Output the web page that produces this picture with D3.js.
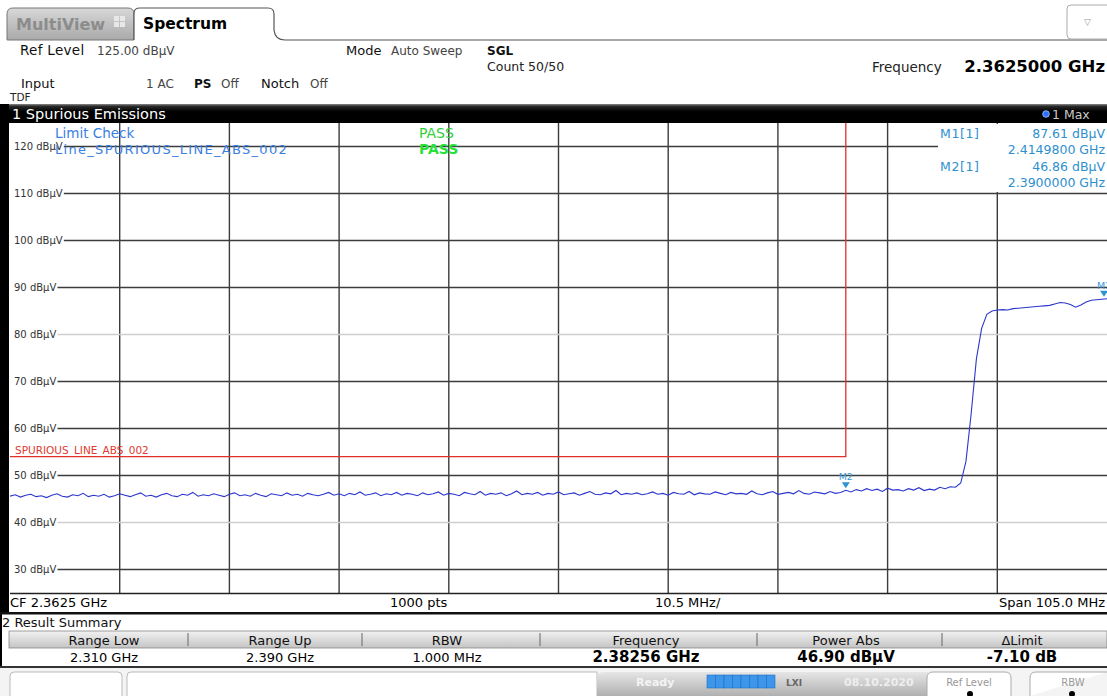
<!DOCTYPE html>
<html><head><meta charset="utf-8">
<script src="https://cdn.jsdelivr.net/npm/d3@7"></script>
<style>
html,body{margin:0;padding:0;background:#fff;overflow:hidden;}
svg{display:block;font-family:"DejaVu Sans",sans-serif;}
</style></head><body>
<svg id="c" width="1107" height="696"></svg>
<script>
// ---------- data ----------
const startFreqMHz = 2310, stopFreqMHz = 2415, stepMHz = 0.5;
const refLevel = 125, bottomLevel = 25;
const levelTicks = [120,110,100,90,80,70,60,50,40,30];
const lightTicks = [80,40];
const freqGridMHz = [2320.5,2331,2341.5,2352,2362.5,2373,2383.5,2394,2404.5];
const traceLevels = [
45.6,45.9,45.4,45.8,46.0,45.5,45.7,45.3,45.8,46.1,45.6,45.4,45.9,45.7,46.2,45.5,45.8,45.6,46.0,45.4,
45.7,46.1,45.8,45.5,45.9,46.3,45.6,45.8,45.4,45.9,46.2,45.7,45.5,46.0,45.8,46.4,45.6,45.9,45.7,46.1,
45.8,45.5,46.0,46.3,45.7,45.9,45.6,46.2,45.8,45.5,46.1,45.9,45.7,46.3,45.8,46.0,45.6,46.2,45.9,45.7,
46.0,46.4,45.8,46.1,45.7,46.2,45.9,46.5,45.8,46.0,46.3,45.7,46.1,45.9,46.4,45.8,46.2,46.0,45.7,46.3,
45.9,46.1,46.5,45.8,46.2,46.0,45.7,46.4,46.1,45.9,46.6,45.8,46.2,46.0,46.3,45.7,46.1,46.7,45.9,46.2,
46.0,46.4,45.8,46.2,46.0,46.5,45.9,46.1,46.3,45.8,46.2,46.6,46.0,45.9,46.3,46.1,46.8,45.9,46.2,46.0,
46.3,45.9,46.1,46.5,46.0,46.2,45.8,46.4,46.1,46.0,46.6,45.9,46.3,46.1,46.0,46.5,46.2,45.9,46.4,46.1,
46.2,46.0,46.7,46.1,45.9,46.3,46.6,46.0,46.2,46.4,46.1,46.8,46.2,46.0,46.5,46.3,46.1,46.6,46.2,46.4,
46.86,46.5,47.0,46.7,47.2,46.8,47.1,46.6,47.3,46.9,47.0,46.7,47.2,46.9,47.4,46.8,47.1,46.9,47.5,47.2,
47.6,47.5,48.4,53.0,63.2,74.8,81.3,84.3,85.0,85.2,85.3,85.2,85.5,85.6,85.7,85.8,85.9,86.0,86.1,86.2,
86.5,86.8,86.7,86.4,85.8,86.3,86.9,87.3,87.4,87.5,87.61
];
const limitPoints = [[2310,54],[2390,54],[2390,125]];
const markerNames = ["M1","M2"];
const markerFreqs = [2414.98,2390.0];
const markerLevels = [87.61,46.86];
const markerLevelTexts = ["87.61 dBµV","46.86 dBµV"];
const markerFreqTexts = ["2.4149800 GHz","2.3900000 GHz"];
const summaryHeaders = ["Range Low","Range Up","RBW","Frequency","Power Abs","ΔLimit"];
const summaryValues = ["2.310 GHz","2.390 GHz","1.000 MHz","2.38256 GHz","46.90 dBµV","-7.10 dB"];

// ---------- layout ----------
const svg = d3.select("#c");
const W = 1107, H = 696;
const plot = {l:10, r:1107, t:123, b:593};
const x = d3.scaleLinear().domain([startFreqMHz, stopFreqMHz]).range([plot.l, plot.r]);
const y = d3.scaleLinear().domain([bottomLevel, refLevel]).range([plot.b, plot.t]);

const defs = svg.append("defs");
function grad(id, stops){
  const g = defs.append("linearGradient").attr("id",id).attr("x1",0).attr("x2",0).attr("y1",0).attr("y2",1);
  stops.forEach(s=>g.append("stop").attr("offset",s[0]).attr("stop-color",s[1]));
}
grad("gBar",[[0,"#8a8a8a"],[0.12,"#2a2a2a"],[0.4,"#000"],[1,"#000"]]);
grad("gTab",[[0,"#d8d8d8"],[1,"#a9a9a9"]]);
grad("gHead",[[0,"#f2f2f2"],[1,"#c4c4c4"]]);
grad("gStatus",[[0,"#e6e6e6"],[1,"#b0b0b0"]]);
defs.append("clipPath").attr("id","clipPlot").append("rect")
  .attr("x",plot.l).attr("y",plot.t).attr("width",plot.r-plot.l).attr("height",plot.b-plot.t);

svg.append("rect").attr("width",W).attr("height",H).attr("fill","#fff");

// ---------- tabs ----------
svg.append("path").attr("d","M7,40 L7,14 Q7,8 13,8 L128,8 Q134,8 134,14 L134,40 Z")
  .attr("fill","url(#gTab)").attr("stroke","#777");
svg.append("text").attr("x",16).attr("y",30).attr("font-size",16).attr("font-weight","bold")
  .attr("fill","#8c8c8c").text("MultiView");
[[114,20],[120,20],[114,26],[120,26]].forEach(p=>svg.append("rect").attr("x",p[0]).attr("y",p[1]-4)
  .attr("width",5).attr("height",5).attr("fill","#e8e8e8"));
svg.append("path").attr("d","M134,40 L134,13 Q134,8 140,8 L268,8 Q274,8 274,14 L274,30 Q275,40 285,40 L1107,40")
  .attr("fill","#fff").attr("stroke","#555").attr("stroke-width",1.2);
svg.append("text").attr("x",143).attr("y",29).attr("font-size",15.5).attr("font-weight","bold")
  .attr("fill","#000").text("Spectrum");
svg.append("rect").attr("x",1067).attr("y",5).attr("width",45).attr("height",34).attr("rx",4)
  .attr("fill","#fff").attr("stroke","#aaa");
svg.append("text").attr("x",1084).attr("y",25).attr("font-size",9).attr("fill","#999").text("▽");

// ---------- header info ----------
function txt(xp, yp, s, size, opts={}){
  const t = svg.append("text").attr("x",xp).attr("y",yp).attr("font-size",size)
    .attr("fill",opts.fill||"#000").text(s);
  if(opts.bold) t.attr("font-weight","bold");
  if(opts.anchor) t.attr("text-anchor",opts.anchor);
  if(opts.ls) t.attr("letter-spacing",opts.ls);
  return t;
}
txt(20,55,"Ref Level",13.5,{fill:"#111",ls:0.3});
txt(97,55,"125.00 dBµV",12,{fill:"#444"});
txt(346,55,"Mode",13,{fill:"#111"});
txt(391,55,"Auto Sweep",12,{fill:"#444"});
txt(487,55,"SGL",12,{bold:true,fill:"#111"});
txt(487,71,"Count 50/50",12.5,{fill:"#222"});
txt(872,72,"Frequency",13.5,{fill:"#222"});
txt(1105,72,"2.3625000 GHz",16.5,{bold:true,anchor:"end"});
txt(21,88,"Input",13,{fill:"#111"});
txt(146,88,"1 AC",12,{fill:"#444"});
txt(194,88,"PS",12,{bold:true,fill:"#111"});
txt(221,88,"Off",12,{fill:"#444"});
txt(261,88,"Notch",13,{fill:"#111"});
txt(310,88,"Off",12,{fill:"#444"});
txt(10,101,"TDF",10.5,{fill:"#222"});

// ---------- title bar ----------
svg.append("rect").attr("x",0).attr("y",104).attr("width",W).attr("height",19).attr("fill","url(#gBar)");
txt(12,119,"1 Spurious Emissions",14.5,{fill:"#fff"});
svg.append("circle").attr("cx",1046).attr("cy",114).attr("r",3.3).attr("fill","#2f6fff").attr("stroke","#9cf").attr("stroke-width",0.8);
txt(1052,119,"1 Max",12.5,{fill:"#c8c8c8"});

// left black border
svg.append("rect").attr("x",0).attr("y",104).attr("width",9).attr("height",510).attr("fill","#000");
svg.append("rect").attr("x",0).attr("y",612).attr("width",2).attr("height",56).attr("fill","#000");

// ---------- grid ----------
const g = svg.append("g");
g.selectAll("line.v").data(freqGridMHz).enter().append("line")
  .attr("x1",d=>x(d)).attr("x2",d=>x(d)).attr("y1",plot.t).attr("y2",plot.b)
  .attr("stroke","#3c3c3c").attr("stroke-width",1.4);
g.selectAll("line.h").data(levelTicks).enter().append("line")
  .attr("x1",plot.l).attr("x2",plot.r).attr("y1",d=>y(d)).attr("y2",d=>y(d))
  .attr("stroke",d=>lightTicks.includes(d)?"#cfcfcf":"#3c3c3c").attr("stroke-width",1.4);
svg.append("line").attr("x1",plot.l).attr("x2",plot.r).attr("y1",plot.b+0.5).attr("y2",plot.b+0.5)
  .attr("stroke","#222").attr("stroke-width",1.5);

// marker info box (white backing)
svg.append("rect").attr("x",938).attr("y",plot.t+1).attr("width",plot.r-938).attr("height",68).attr("fill","#fff");

// tick labels with white backing
levelTicks.forEach(v=>{
  const t = svg.append("text").attr("x",14).attr("y",y(v)+3.5).attr("font-size",10)
    .attr("fill","#333").text(v+" dBµV");
  const bb = t.node().getBBox();
  svg.insert("rect","text:last-of-type").attr("x",plot.l).attr("y",y(v)-2)
    .attr("width",bb.x+bb.width-plot.l+1).attr("height",4).attr("fill","#fff");
});

// ---------- limit line ----------
const lim = d3.line().x(d=>x(d[0])).y(d=>y(d[1]));
svg.append("path").attr("d",lim(limitPoints)).attr("fill","none")
  .attr("stroke","#e0302a").attr("stroke-width",1.3).attr("clip-path","url(#clipPlot)");
txt(15,454,"SPURIOUS_LINE_ABS_002",10.5,{fill:"#e23a30"});

// ---------- trace ----------
const line = d3.line().x((d,i)=>x(startFreqMHz+i*stepMHz)).y(d=>y(d));
svg.append("path").attr("d",line(traceLevels)).attr("fill","none")
  .attr("stroke","#2b36cc").attr("stroke-width",1.1).attr("clip-path","url(#clipPlot)");

// ---------- limit check text ----------
txt(55,138,"Limit Check",13.5,{fill:"#3a80e2"});
txt(55,154,"Line_SPURIOUS_LINE_ABS_002",13,{fill:"#3a80e2",ls:1.3});
txt(419,138,"PASS",14,{fill:"#2fcf3a"});
txt(419,154,"PASS",14,{bold:true,fill:"#28e03a"});

// ---------- markers ----------
markerNames.forEach((n,i)=>{
  const mx = Math.min(x(markerFreqs[i]), plot.r-3), my = y(markerLevels[i]);
  svg.append("path").attr("d",`M${mx-4},${my-8} L${mx+4},${my-8} L${mx},${my-2} Z`).attr("fill","#2e95d3");
  svg.append("text").attr("x",mx).attr("y",my-10).attr("font-size",9.5).attr("text-anchor","middle")
    .attr("fill","#3a9ad9").text(n);
});
markerNames.forEach((n,i)=>{
  txt(940,138+i*33,n+"[1]",12.5,{fill:"#2e8fd0",ls:0.6});
  txt(1105,138+i*33,markerLevelTexts[i],12.5,{fill:"#2e8fd0",anchor:"end"});
  txt(1105,154+i*33,markerFreqTexts[i],12.5,{fill:"#2e8fd0",anchor:"end"});
});

// ---------- footer row ----------
txt(10,607,"CF 2.3625 GHz",13,{fill:"#000"});
txt(390,607,"1000 pts",13,{fill:"#000"});
txt(655,607,"10.5 MHz/",13,{fill:"#000"});
txt(1105,607,"Span 105.0 MHz",13,{fill:"#000",anchor:"end"});
svg.append("rect").attr("x",0).attr("y",612).attr("width",W).attr("height",2.5).attr("fill","#111");
txt(2,627,"2 Result Summary",13,{fill:"#111"});

// ---------- result table ----------
const colCenters = [104,280,447,646,846,1022];
const colSeps = [188,362,540,757,942];
svg.append("rect").attr("x",9).attr("y",631).attr("width",W-9).attr("height",17).attr("fill","url(#gHead)")
  .attr("stroke","#888").attr("stroke-width",0.8);
colSeps.forEach(s=>svg.append("line").attr("x1",s).attr("x2",s).attr("y1",633).attr("y2",646)
  .attr("stroke","#666").attr("stroke-width",1));
summaryHeaders.forEach((h,i)=>txt(colCenters[i],645,h,13,{fill:"#111",anchor:"middle"}));
summaryValues.forEach((v,i)=>txt(colCenters[i],662,v,i>=3?15:13,{fill:"#000",anchor:"middle",bold:i>=3}));
svg.append("rect").attr("x",0).attr("y",666).attr("width",W).attr("height",2.5).attr("fill","#333");

// ---------- status bar ----------
svg.append("rect").attr("x",0).attr("y",668).attr("width",W).attr("height",28).attr("fill","#f4f4f4");
svg.append("path").attr("d","M10,696 L10,676 Q10,672 14,672 L118,672 Q122,672 122,676 L122,696").attr("fill","#fff").attr("stroke","#bbb");
svg.append("path").attr("d","M127,696 L127,676 Q127,672 131,672 L597,672 L597,696").attr("fill","#fff").attr("stroke","#bbb");
svg.append("path").attr("d","M597,696 L597,678 Q597,672 604,672 L928,672 L928,696 Z").attr("fill","url(#gStatus)");
txt(636,686,"Ready",11,{fill:"#f4f4f4",bold:true});
for(let k=0;k<8;k++){
  svg.append("rect").attr("x",707+k*8.5).attr("y",675).attr("width",8.5).attr("height",13).attr("fill","#3d96ea")
    .attr("stroke","#1f6fc0").attr("stroke-width",0.6);
}
txt(786,686,"LXI",9,{fill:"#666",bold:true});
txt(844,686,"08.10.2020",11,{fill:"#eeeeee",bold:true});
svg.append("path").attr("d","M927,696 L927,678 Q927,672 933,672 L1005,672 Q1011,672 1011,678 L1011,696").attr("fill","#fff").attr("stroke","#aaa");
txt(969,686,"Ref Level",10,{fill:"#999",anchor:"middle"});
svg.append("circle").attr("cx",970).attr("cy",694).attr("r",3).attr("fill","#000");
svg.append("path").attr("d","M1030,696 L1030,678 Q1030,672 1036,672 L1107,672").attr("fill","#fff").attr("stroke","#aaa");
txt(1073,686,"RBW",10,{fill:"#999",anchor:"middle"});
svg.append("circle").attr("cx",1072).attr("cy",694).attr("r",3).attr("fill","#000");
</script>
</body></html>
